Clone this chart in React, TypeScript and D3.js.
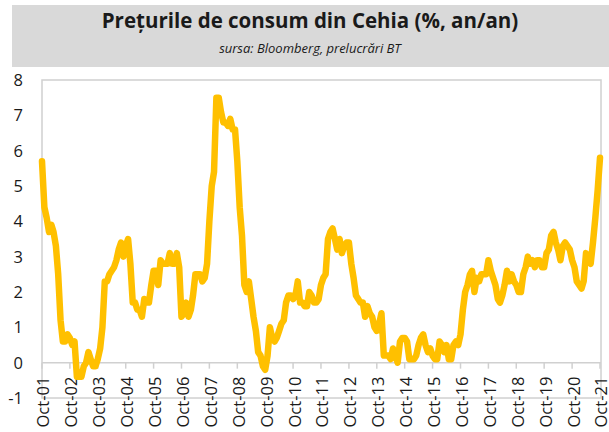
import { useEffect, useRef } from "react"
import * as d3 from "d3"

// Monthly CPI y/y, Oct-2001 .. Oct-2021
const v2001 = [5.7, 4.4, 4.1]
const v2002 = [3.7, 3.9, 3.7, 3.3, 2.5, 1.2, 0.6, 0.6, 0.8, 0.7, 0.5, 0.6]
const v2003 = [-0.4, -0.4, -0.4, -0.1, 0.0, 0.3, 0.1, -0.1, -0.1, 0.1, 0.4, 1.0]
const v2004 = [2.3, 2.3, 2.5, 2.6, 2.7, 2.9, 3.2, 3.4, 3.0, 3.3, 3.5, 2.8]
const v2005 = [1.7, 1.7, 1.5, 1.5, 1.3, 1.8, 1.7, 1.7, 2.2, 2.6, 2.6, 2.2]
const v2006 = [2.9, 2.8, 2.8, 2.8, 3.1, 2.8, 2.8, 3.1, 2.7, 1.3, 1.4, 1.7]
const v2007 = [1.3, 1.5, 1.9, 2.5, 2.5, 2.5, 2.3, 2.4, 2.8, 4.0, 5.0, 5.4]
const v2008 = [7.5, 7.5, 7.1, 6.8, 6.8, 6.7, 6.9, 6.6, 6.6, 5.7, 4.4, 3.6]
const v2009 = [2.2, 2.0, 2.3, 1.8, 1.3, 0.9, 0.3, 0.2, -0.1, -0.2, 0.2, 1.0]
const v2010 = [0.7, 0.6, 0.7, 0.9, 1.1, 1.2, 1.7, 1.9, 1.9, 1.8, 1.9, 2.3]
const v2011 = [1.7, 1.7, 1.6, 1.6, 2.0, 1.9, 1.7, 1.7, 1.8, 2.2, 2.4, 2.5]
const v2012 = [3.5, 3.7, 3.8, 3.5, 3.2, 3.5, 3.1, 3.3, 3.4, 3.4, 2.8, 2.4]
const v2013 = [1.9, 1.8, 1.7, 1.7, 1.3, 1.6, 1.4, 1.3, 1.0, 0.9, 1.1, 1.4]
const v2014 = [0.2, 0.2, 0.2, 0.1, 0.4, 0.2, 0.0, 0.6, 0.7, 0.7, 0.6, 0.1]
const v2015 = [0.1, 0.1, 0.2, 0.5, 0.7, 0.8, 0.5, 0.3, 0.4, 0.2, 0.1, 0.1]
const v2016 = [0.6, 0.5, 0.3, 0.5, 0.1, 0.1, 0.5, 0.6, 0.5, 0.8, 1.5, 2.0]
const v2017 = [2.2, 2.5, 2.6, 2.0, 2.4, 2.3, 2.5, 2.5, 2.5, 2.9, 2.6, 2.4]
const v2018 = [2.2, 1.8, 1.7, 1.9, 2.2, 2.6, 2.3, 2.5, 2.3, 2.2, 2.0, 2.0]
const v2019 = [2.5, 2.7, 3.0, 2.8, 2.9, 2.7, 2.9, 2.9, 2.7, 2.7, 3.1, 3.2]
const v2020 = [3.6, 3.7, 3.4, 3.2, 2.9, 3.3, 3.4, 3.3, 3.2, 2.9, 2.7, 2.3]
const v2021 = [2.2, 2.1, 2.3, 3.1, 2.9, 2.8, 3.4, 4.1, 4.9, 5.8]

const cpi = [
  ...v2001, ...v2002, ...v2003, ...v2004, ...v2005, ...v2006, ...v2007,
  ...v2008, ...v2009, ...v2010, ...v2011, ...v2012, ...v2013, ...v2014,
  ...v2015, ...v2016, ...v2017, ...v2018, ...v2019, ...v2020, ...v2021,
]

const startDate = new Date(2001, 9, 1)
const endDate = new Date(2021, 9, 1)
const tickYears = d3.range(2001, 2022)
const yTicks = d3.range(-1, 9)

const title = "Prețurile de consum din Cehia (%, an/an)"
const subtitle = "sursa: Bloomberg, prelucrări BT"

const W = 609
const H = 432
const FONT = "'Open Sans', sans-serif"

export default function App() {
  const svgRef = useRef<SVGSVGElement>(null)

  useEffect(() => {
    const svg = d3.select(svgRef.current!)
    svg.selectAll("*").remove()

    const x = d3.scaleTime().domain([startDate, endDate]).range([42, 600])
    const y = d3.scaleLinear().domain([-1, 8]).range([398, 80])

    // title band
    svg.append("rect").attr("x", 12).attr("y", 5).attr("width", W - 12).attr("height", 62).attr("fill", "#d9d9d9")
    svg
      .append("text")
      .attr("x", 310)
      .attr("y", 28)
      .attr("text-anchor", "middle")
      .attr("font-family", FONT)
      .attr("font-weight", 700)
      .attr("font-size", 20.5)
      .attr("fill", "#1a1a1a")
      .text(title)
    svg
      .append("text")
      .attr("x", 310)
      .attr("y", 53)
      .attr("text-anchor", "middle")
      .attr("font-family", FONT)
      .attr("font-style", "italic")
      .attr("font-size", 13)
      .attr("fill", "#1a1a1a")
      .text(subtitle)

    // plot frame
    svg
      .append("rect")
      .attr("x", 42)
      .attr("y", y(8))
      .attr("width", 601 - 42)
      .attr("height", y(-1) - y(8))
      .attr("fill", "none")
      .attr("stroke", "#d0d0d0")
      .attr("stroke-width", 1.5)

    // y labels
    svg
      .append("g")
      .selectAll("text")
      .data(yTicks)
      .enter()
      .append("text")
      .attr("x", 23)
      .attr("y", (d) => y(d))
      .attr("dy", "0.36em")
      .attr("text-anchor", "end")
      .attr("font-family", FONT)
      .attr("font-size", 16.5)
      .attr("fill", "#1a1a1a")
      .text((d) => d)

    // x axis at zero
    const y0 = y(0)
    svg.append("line").attr("x1", 42).attr("x2", 601).attr("y1", y0).attr("y2", y0).attr("stroke", "#d0d0d0").attr("stroke-width", 1.5)
    const ticks = tickYears.map((yr) => new Date(yr, 9, 1))
    svg
      .append("g")
      .selectAll("line")
      .data(ticks)
      .enter()
      .append("line")
      .attr("x1", (d) => x(d))
      .attr("x2", (d) => x(d))
      .attr("y1", y0)
      .attr("y2", y0 + 6)
      .attr("stroke", "#d0d0d0")
      .attr("stroke-width", 1.5)
    const fmt = d3.timeFormat("%b-%y")
    svg
      .append("g")
      .selectAll("text")
      .data(ticks)
      .enter()
      .append("text")
      .attr("transform", (d) => `translate(${x(d) + 1.5},${y0 + 14}) rotate(-90)`)
      .attr("dy", "0.36em")
      .attr("text-anchor", "end")
      .attr("font-family", FONT)
      .attr("font-size", 16.5)
      .attr("fill", "#1a1a1a")
      .text((d) => fmt(d))

    // series
    const points = cpi.map((v, i) => ({ date: d3.timeMonth.offset(startDate, i), v }))
    const line = d3
      .line<{ date: Date; v: number }>()
      .x((d) => x(d.date))
      .y((d) => y(d.v))
    svg
      .append("path")
      .datum(points)
      .attr("d", line)
      .attr("fill", "none")
      .attr("stroke", "#ffc000")
      .attr("stroke-width", 6.5)
      .attr("stroke-linejoin", "round")
      .attr("stroke-linecap", "round")
  }, [])

  return (
    <>
      <style>{`body{margin:0}`}</style>
      <svg ref={svgRef} width={W} height={H} style={{ display: "block", background: "#fff" }} />
    </>
  )
}
